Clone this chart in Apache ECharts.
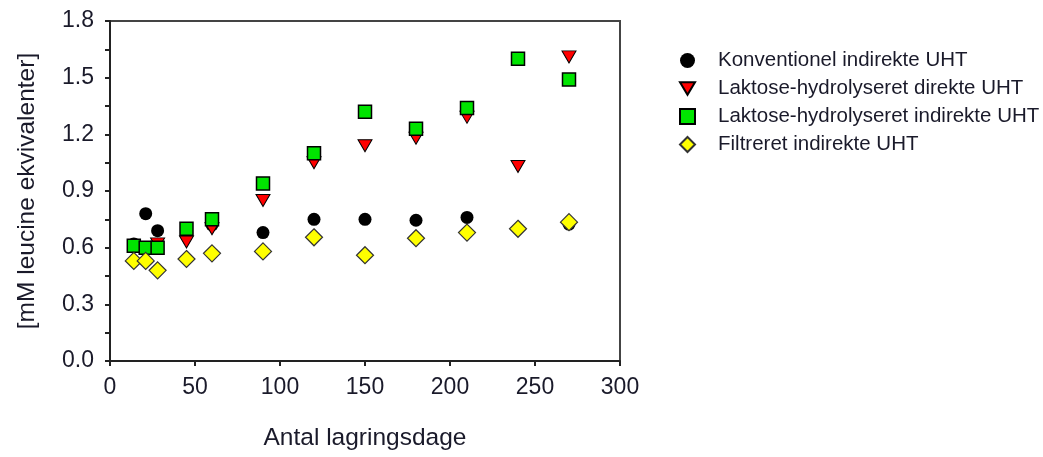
<!DOCTYPE html>
<html>
<head>
<meta charset="utf-8">
<script src="https://cdn.jsdelivr.net/npm/echarts@6/dist/echarts.min.js"></script>
<style>
  html, body { margin: 0; padding: 0; background: #fff; }
  #chart { width: 1043px; height: 457px; }
</style>
</head>
<body>
<div id="chart"></div>
<script>
// Storage days (x values)
const days = [14, 21, 28, 45, 60, 90, 120, 150, 180, 210, 240, 270];

// Free amino groups, mM leucine equivalents (null = no point)
const konventionelIndirekte = [0.62, 0.78, 0.69, null, 0.72, 0.68, 0.75, 0.75, 0.745, 0.76, null, 0.725];
const laktoseDirekte        = [null, null, 0.62, 0.63, 0.70, 0.85, 1.05, 1.14, 1.18, 1.29, 1.03, 1.61];
const laktoseIndirekte      = [0.61, 0.60, 0.60, 0.70, 0.75, 0.94, 1.10, 1.32, 1.23, 1.34, 1.60, 1.49];
const filtreretIndirekte    = [0.53, 0.53, 0.48, 0.54, 0.57, 0.58, 0.655, 0.56, 0.65, 0.68, 0.70, 0.735];

const seriesNames = [
  'Konventionel indirekte UHT',
  'Laktose-hydrolyseret direkte UHT',
  'Laktose-hydrolyseret indirekte UHT',
  'Filtreret indirekte UHT'
];

const xTicks = { min: 0, max: 300, interval: 50 };
const yTicks = { min: 0, max: 1.8, interval: 0.3 };

function pairs(values) {
  return days.map((d, i) => [d, values[i]]).filter(p => p[1] !== null);
}

const FONT = '"Liberation Sans", Arial, sans-serif';
const TEXT = '#1a1a2a';
const AXIS = '#222';

const chart = echarts.init(document.getElementById('chart'), null, { renderer: 'canvas' });

const downTriangle = 'path://M0,0 L12,0 L6,10 Z';

chart.setOption({
  animation: false,
  backgroundColor: '#fff',
  textStyle: { fontFamily: FONT },
  grid: {
    left: 110, right: 423, top: 21, bottom: 96,
    show: true, borderColor: '#444', borderWidth: 2, backgroundColor: 'transparent'
  },
  legend: {
    orient: 'vertical',
    left: 674, top: 45,
    itemWidth: 15, itemHeight: 15, itemGap: 7,
    textStyle: { fontSize: 20.5, color: TEXT, fontFamily: FONT, padding: [0, 0, 0, 18] },
    data: seriesNames
  },
  xAxis: {
    type: 'value',
    min: xTicks.min, max: xTicks.max, interval: xTicks.interval,
    name: 'Antal lagringsdage',
    nameLocation: 'middle', nameGap: 65,
    nameTextStyle: { fontSize: 24.5, color: TEXT, fontFamily: FONT },
    axisLine: { show: true, onZero: false, lineStyle: { color: AXIS, width: 2 } },
    axisTick: { show: true, inside: false, length: 5, lineStyle: { color: AXIS, width: 2 } },
    axisLabel: { fontSize: 23, color: TEXT, margin: 15, fontFamily: FONT },
    splitLine: { show: false }
  },
  yAxis: {
    type: 'value',
    min: yTicks.min, max: yTicks.max, interval: yTicks.interval,
    name: '[mM leucine ekvivalenter]',
    nameLocation: 'middle', nameGap: 70,
    nameTextStyle: { fontSize: 24.5, color: TEXT, fontFamily: FONT },
    axisLine: { show: true, onZero: false, lineStyle: { color: AXIS, width: 2 } },
    axisTick: { show: true, inside: false, length: 5, lineStyle: { color: AXIS, width: 2 } },
    minorTick: { show: true, splitNumber: 2, length: 5, lineStyle: { color: AXIS, width: 2 } },
    axisLabel: {
      fontSize: 23, color: TEXT, margin: 16, fontFamily: FONT,
      formatter: v => v.toFixed(1)
    },
    splitLine: { show: false }
  },
  series: [
    {
      name: seriesNames[0], type: 'scatter',
      data: pairs(konventionelIndirekte),
      symbol: 'circle', symbolSize: 13,
      itemStyle: { color: '#000', borderColor: '#000', borderWidth: 0, opacity: 1 }
    },
    {
      name: seriesNames[1], type: 'scatter',
      data: pairs(laktoseDirekte),
      symbol: downTriangle, symbolSize: [14, 12],
      itemStyle: { color: '#ff0000', borderColor: '#000', borderWidth: 1, opacity: 1 }
    },
    {
      name: seriesNames[2], type: 'scatter',
      data: pairs(laktoseIndirekte),
      symbol: 'rect', symbolSize: 13,
      itemStyle: { color: '#00e400', borderColor: '#000', borderWidth: 1.5, opacity: 1 }
    },
    {
      name: seriesNames[3], type: 'scatter',
      data: pairs(filtreretIndirekte),
      symbol: 'diamond', symbolSize: 17,
      itemStyle: { color: '#ffff00', borderColor: '#333', borderWidth: 1.2, opacity: 1 }
    }
  ]
});
</script>
</body>
</html>
